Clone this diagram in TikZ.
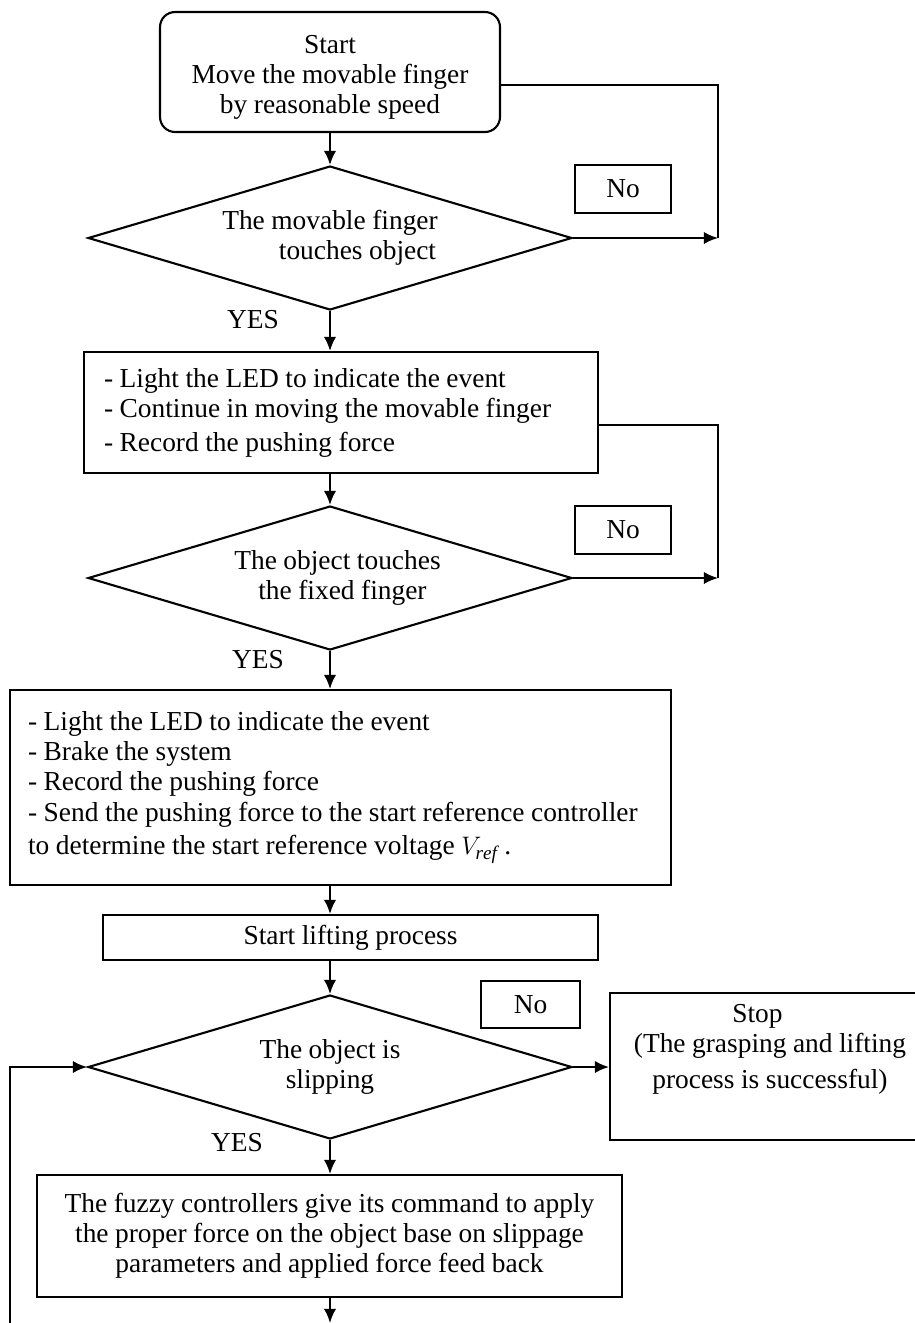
\documentclass[tikz,border=0pt]{standalone}
\usepackage{fontspec}
\setmainfont{Liberation Serif}[WordSpace=0.95]
\usetikzlibrary{shapes.geometric,arrows.meta}

\newcommand\txtsize{\fontsize{15.6}{17.2}\selectfont}

\begin{document}
\begin{tikzpicture}[x=0.02cm, y=-0.02cm, line width=1.2pt,
    >={Latex[length=8pt,width=7pt]},
    box/.style={draw, rectangle, inner sep=0pt, font=\txtsize},
    listbox/.style={box, align=flush left, inner ysep=0pt},
    dec/.style={draw, diamond, aspect=3.36, minimum width=9.68cm,
        minimum height=2.88cm, inner sep=0pt, align=center, font=\txtsize},
    nobox/.style={box, minimum width=1.92cm, minimum height=0.96cm},
    lbl/.style={inner sep=0pt, font=\txtsize}]
    	\useasboundingbox (0,0) rectangle (915,1323);

    	% start
    	\node [box, rounded corners=0.3cm, align=center, minimum width=6.8cm,
    	    minimum height=2.4cm] (start) at (330,72)
    	    {\\[-1pt]Start\\Move the movable finger\\by reasonable speed};

    	% first test, finger on object
    	\node [dec] (touch) at (330,238)
    	    {The movable finger\\\hspace*{1.1cm}touches object};
    	\node [nobox] (no1) at (623,189) {No};
    	\node [lbl] (yes1) at (253,320) {YES};

    	% led and keep moving
    	\node [listbox, text width=9.48cm, inner xsep=0.4cm,
    	    minimum height=2.42cm] (move) at (341,412.5)
    	    {- Light the LED to indicate the event\\
    	     - Continue in moving the movable finger\\[2pt]
    	     - Record the pushing force};

    	% second test, object on fixed finger
    	\node [dec] (fixed) at (330,578)
    	    {\hspace*{0.3cm}The object touches\\\hspace*{0.5cm}the fixed finger};
    	\node [nobox] (no2) at (623,530) {No};
    	\node [lbl] (yes2) at (258,660) {YES};

    	% brake and send force
    	\node [listbox, text width=12.5cm, inner xsep=0.36cm,
    	    minimum height=3.9cm] (brake) at (340.5,787.5)
    	    {- Light the LED to indicate the event\\
    	     - Brake the system\\
    	     - Record the pushing force\\
    	     - Send the pushing force to the start reference controller\\[2pt]
    	     to determine the start reference voltage $V_{\mathit{ref}}$ .\\[4pt]};

    	% lifting
    	\node [box, minimum width=9.9cm, minimum height=0.9cm] (lift) at (350.5,937.5)
    	    {Start lifting process};

    	% slip test
    	\node [dec] (slip) at (330,1067) {The object is\\slipping};
    	\node [box, minimum width=1.98cm, minimum height=0.94cm] (no3) at (530.5,1004.5) {No};
    	\node [lbl] (yes3) at (237,1143) {YES};

    	% stop, runs off the right edge
    	\node [box, align=center, minimum width=6.4cm, minimum height=2.94cm] (stop) at (770,1066.5)
    	    {Stop\hspace*{0.5cm}\\(The grasping and lifting\hspace*{0.5cm}\\[3pt]process is successful)\hspace*{0.5cm}\\[6pt]};

    	% fuzzy controllers
    	\node [box, align=center, minimum width=11.7cm, minimum height=2.44cm] (fuzzy) at (329.5,1236)
    	    {The fuzzy controllers give its command to apply\\
    	     the proper force on the object base on slippage\\
    	     parameters and applied force feed back};

    	% down the middle
    	\draw [->] (start) -- (touch);
    	\draw [->] (touch.south) -- (touch.south |- move.north);
    	\draw [->] (touch.south |- move.south) -- (fixed.north);
    	\draw [->] (fixed.south) -- (fixed.south |- brake.north);
    	\draw [->] (fixed.south |- brake.south) -- (fixed.south |- lift.north);
    	\draw [->] (fixed.south |- lift.south) -- (slip.north);
    	\draw [->] (slip.south) -- (slip.south |- fuzzy.north);
    	\coordinate (bot) at (330,1323);
    	\draw [->] (slip.south |- fuzzy.south) -- (bot);

    	% no loops on the right
    	\coordinate (r1) at (718,238);
    	\coordinate (r2) at (718,578);
    	\draw (start.east |- 0,85) -| (r1);
    	\draw [->] (touch.east) -- (r1);
    	\draw (move.east |- 0,425) -| (r2);
    	\draw [->] (fixed.east) -- (r2);
    	\draw [->] (slip.east) -- (stop.west |- slip.east);

    	% feed back on the left
    	\coordinate (lb) at (10,1323);
    	\draw [->] (lb) |- (slip.west);
\end{tikzpicture}
\end{document}
